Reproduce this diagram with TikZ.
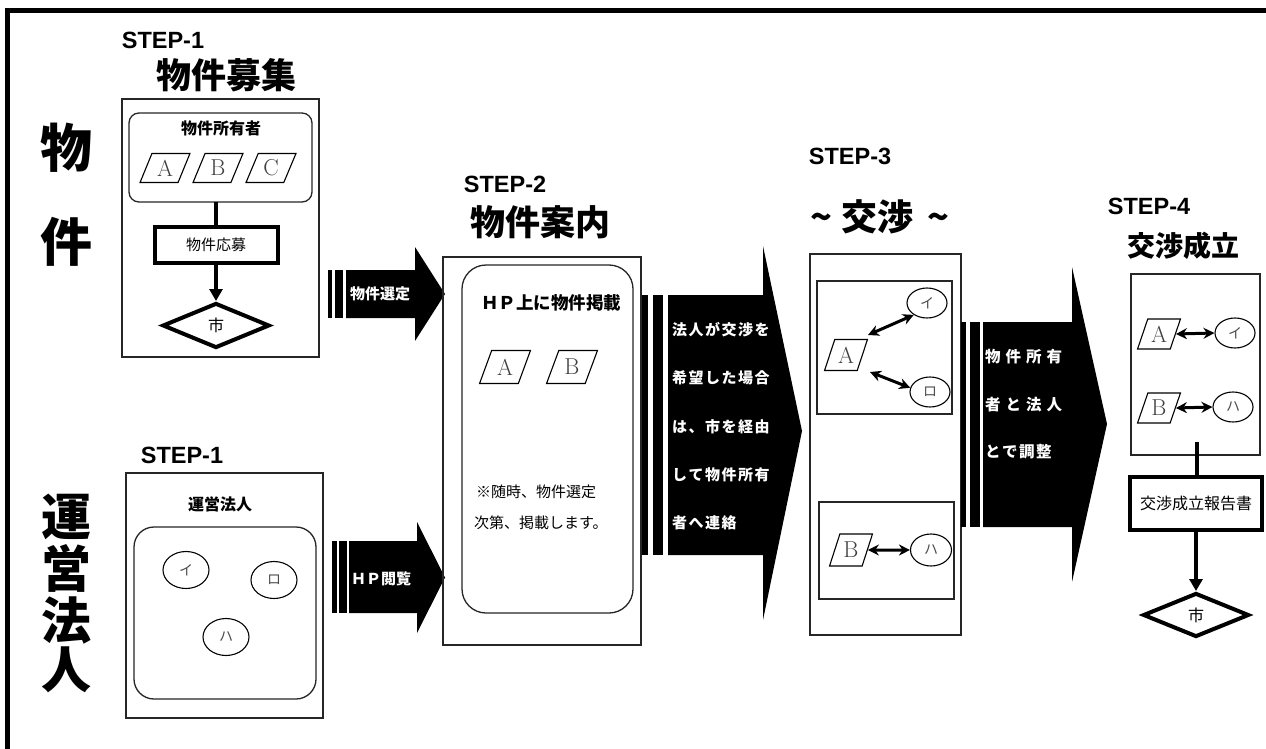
\documentclass[tikz,border=0pt]{standalone}
\usepackage{fontspec}
\newfontfamily\jp{Noto Sans CJK JP}
\newfontfamily\arl{Liberation Sans}
\usetikzlibrary{shapes.geometric,arrows.meta,calc}
\newcommand\fsz[1]{\fontsize{#1}{#1}\selectfont}
\newcommand\lsp{\kern5pt}
\newcommand\lsq{\kern1.5pt}
\tikzset{
  thinbox/.style={draw=black!85, line width=1.3pt, inner sep=0pt, outer sep=0pt},
  heavybox/.style={draw, line width=4pt, inner sep=0pt},
  para/.style={trapezium, trapezium left angle=66, trapezium right angle=114,
    trapezium stretches=true, draw, line width=1.1pt, inner sep=0pt,
    font=\fsz{23}, text=black!75},
  oval/.style={ellipse, draw, line width=1.1pt, inner sep=0pt,
    minimum width=40pt, minimum height=30pt, font=\jp\fsz{14}, text=black!70},
  dia/.style={diamond, draw, line width=4pt, inner sep=0pt, font=\jp\fsz{16}},
  steplbl/.style={font=\arl\bfseries\fsz{23.5}, inner sep=0pt},
  bigt/.style={font=\jp\bfseries\fsz{#1}, inner sep=0pt},
  midt/.style={font=\jp\bfseries\fsz{#1}, inner sep=0pt},
  plaint/.style={font=\jp\fsz{#1}, inner sep=0pt},
  flowln/.style={line width=4pt},
  flowarr/.style={line width=4pt, -{Triangle[length=12pt,width=13pt]}},
  dbl/.style={line width=3pt, {Stealth[length=11pt,width=11pt]}-{Stealth[length=11pt,width=11pt]}},
  wtxt/.style={text=white, font=\jp\bfseries\fsz{#1}, inner sep=0pt, anchor=west},
  blk/.style={fill=black},
}
\begin{document}
\begin{tikzpicture}[x=1pt,y=-1pt]
\useasboundingbox (0,0) rectangle (1266,749);
\fill[white] (0,0) rectangle (1266,749);
% outer frame
\draw[line width=4.5pt] (7.5,749) -- (7.5,10.5) -- (1266,10.5);

% big side labels
\node[bigt=52] (kb1) at (66,148) {物};
\node[bigt=52] (kb2) at (66,242) {件};
\node[bigt=50] (ku1) at (66,517) {運};
\node[bigt=50] (ku2) at (66,568) {営};
\node[bigt=50] (ku3) at (66,620) {法};
\node[bigt=50] (ku4) at (66,670) {人};

% ---------- STEP-1 (property) ----------
\node[steplbl] (s1a) at (163,40) {STEP-1};
\node[bigt=35] (t1) at (226,75) {物件募集};
\node[thinbox, minimum width=197pt, minimum height=258pt] (b1) at (220.5,228) {};
\node[thinbox, rounded corners=10pt, minimum width=183pt, minimum height=89pt] (own) at (220.5,157.5) {};
\node[midt=16] (ownt) at (221,128) {物件所有者};
\node[para, minimum width=50pt, minimum height=29pt] (pa1) at (165,168) {A};
\node[para, minimum width=50pt, minimum height=29pt] (pb1) at (218,168) {B};
\node[para, minimum width=50pt, minimum height=29pt] (pc1) at (271,168) {C};
\node[heavybox, minimum width=123pt, minimum height=36pt, font=\jp\fsz{15}] (app) at (216,245) {物件応募};
\node[dia, minimum width=107pt, minimum height=45pt] (c1) at (216,325.5) {市};
\draw[flowln] (app.north |- own.south) -- (app.north);
\draw[flowarr] (app.south) -- (c1.north);

% arrow 物件選定
\fill[blk] (328,270) rectangle (332,318);
\fill[blk] (335,270) rectangle (343,318);
\fill[blk] (346,270) -- (415,270) -- (415,247) -- (445,294) -- (415,341) -- (415,318) -- (346,318) -- cycle;
\node[wtxt=15, anchor=center] (sel) at (380,294) {物件選定};

% ---------- STEP-1 (corporations) ----------
\node[steplbl] (s1b) at (182,455) {STEP-1};
\node[thinbox, minimum width=197pt, minimum height=245pt] (b1b) at (224.5,595.5) {};
\node[midt=16] (corpt) at (220,504) {運営法人};
\node[thinbox, rounded corners=20pt, minimum width=182pt, minimum height=172pt] (corp) at (225,613) {};
\node[oval, minimum width=46pt, minimum height=37pt] (oi1) at (186,570) {イ};
\node[oval, minimum width=46pt, minimum height=37pt] (or1) at (274,580) {ロ};
\node[oval, minimum width=46pt, minimum height=37pt] (oh1) at (226,637) {ハ};

% arrow HP閲覧
\fill[blk] (332,541) rectangle (337,613);
\fill[blk] (339,541) rectangle (347,613);
\fill[blk] (349,541) -- (417,541) -- (417,522) -- (445,577.5) -- (417,633) -- (417,613) -- (349,613) -- cycle;
\node[wtxt=15, anchor=center] (hp) at (381,579) {ＨＰ閲覧};

% ---------- STEP-2 ----------
\node[steplbl] (s2) at (505,184) {STEP-2};
\node[bigt=35] (t2) at (540,222) {物件案内};
\node[thinbox, minimum width=198pt, minimum height=388pt] (b2) at (542,451) {};
\node[thinbox, rounded corners=24pt, minimum width=171pt, minimum height=348pt] (r2) at (547.5,439) {};
\node[midt=17.5] (hpt) at (551,303) {ＨＰ上に物件掲載};
\node[para, minimum width=51pt, minimum height=33pt] (pa2) at (505,367) {A};
\node[para, minimum width=51pt, minimum height=33pt] (pb2) at (572,367) {B};
\node[plaint=15, anchor=west] (n2a) at (476,492) {※随時、物件選定};
\node[plaint=15, anchor=west] (n2b) at (474,523) {次第、掲載します。};

% arrow 2
\fill[blk] (642,295) rectangle (648,555);
\fill[blk] (653,295) rectangle (663,555);
\fill[blk] (668,295) -- (763,295) -- (763,246) -- (802,431) -- (763,620) -- (763,555) -- (668,555) -- cycle;
\node[wtxt=15] (w21) at (672,330) {法\lsq 人\lsq が\lsq 交\lsq 渉\lsq を};
\node[wtxt=15] (w22) at (672,378) {希\lsq 望\lsq し\lsq た\lsq 場\lsq 合};
\node[wtxt=15] (w23) at (672,427) {は\lsq 、\lsq 市\lsq を\lsq 経\lsq 由};
\node[wtxt=15] (w24) at (672,475) {し\lsq て\lsq 物\lsq 件\lsq 所\lsq 有};
\node[wtxt=15] (w25) at (672,523) {者\lsq へ\lsq 連\lsq 絡};

% ---------- STEP-3 ----------
\node[steplbl] (s3) at (850,156) {STEP-3};
\node[bigt=36] (t3) at (880,217) {\textasciitilde\kern10pt 交渉\kern14pt \textasciitilde};
\node[thinbox, minimum width=151pt, minimum height=381pt] (b3) at (885.5,444.5) {};
\node[thinbox, minimum width=135pt, minimum height=133pt] (i3box) at (884.5,347.5) {};
\node[para, minimum width=43pt, minimum height=31pt] (pa3) at (846,355) {A};
\node[oval] (oi3) at (927,303) {イ};
\node[oval] (or3) at (930,392) {ロ};
\coordinate (a3u) at (868,335);
\coordinate (a3d) at (870,372);
\draw[dbl] (a3u) -- (oi3.222);
\draw[dbl] (a3d) -- (or3.168);
\node[thinbox, minimum width=135pt, minimum height=97pt] (i3box2) at (886.5,550.5) {};
\node[para, minimum width=43pt, minimum height=32pt] (pb3) at (851,550) {B};
\node[oval, minimum width=41pt, minimum height=32pt] (oh3) at (931,550) {ハ};
\draw[dbl] (pb3.east) -- (oh3.west);

% arrow 3
\fill[blk] (961,322) rectangle (966,527);
\fill[blk] (970,322) rectangle (980,527);
\fill[blk] (983,322) -- (1072,322) -- (1072,267) -- (1107,424) -- (1072,582) -- (1072,527) -- (983,527) -- cycle;
\node[wtxt=15.5] (w31) at (985,357) {物\lsp 件\lsp 所\lsp 有};
\node[wtxt=15.5] (w32) at (985,405) {者\lsp と\lsp 法\lsp 人};
\node[wtxt=15.5] (w33) at (985,452) {と\lsq で\lsq 調\lsq 整};

% ---------- STEP-4 ----------
\node[steplbl] (s4) at (1149,206) {STEP-4};
\node[bigt=28] (t4) at (1183,246) {交渉成立};
\node[thinbox, minimum width=129pt, minimum height=181pt] (b4) at (1195.5,364.5) {};
\node[para, minimum width=43pt, minimum height=30pt] (pa4) at (1159,334) {A};
\node[oval] (oi4) at (1235,333) {イ};
\node[para, minimum width=43pt, minimum height=30pt] (pb4) at (1159,408) {B};
\node[oval] (oh4) at (1233,407) {ハ};
\draw[dbl] (pa4.east) -- (oi4.west);
\draw[dbl] (pb4.east) -- (oh4.west);
\node[heavybox, minimum width=132pt, minimum height=53pt, font=\jp\fsz{16}] (rep) at (1196,503.5) {交渉成立報告書};
\coordinate (l4) at (1197,442);
\draw[flowln] (l4) -- (l4 |- rep.north);
\node[dia, minimum width=106pt, minimum height=44pt] (c4) at (1196,615) {市};
\draw[flowarr] (rep.south) -- (c4.north);
\end{tikzpicture}
\end{document}
